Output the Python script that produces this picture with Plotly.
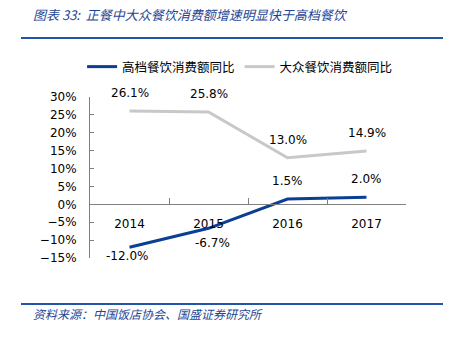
import plotly.graph_objects as go

years = ["2014", "2015", "2016", "2017"]
high_end = [-12.0, -6.7, 1.5, 2.0]
mass = [26.1, 25.8, 13.0, 14.9]
# label offsets (pixels) relative to each point
high_label_shift = [-9, -15, 18, 18]
high_label_xshift = [-3, 4, 0, 0]
mass_label_shift = [18, 18, 18, 18]

title_text = "图表 33:  正餐中大众餐饮消费额增速明显快于高档餐饮"
source_text = "资料来源：中国饭店协会、国盛证券研究所"
name_high = "高档餐饮消费额同比"
name_mass = "大众餐饮消费额同比"

BLUE = "#0a3f94"
GRAY = "#c8c8c8"
TXT_BLUE = "#1f4696"

fig = go.Figure()
fig.add_trace(go.Scatter(
    x=years, y=high_end, mode="lines", name=name_high,
    line=dict(color=BLUE, width=3), cliponaxis=False,
))
fig.add_trace(go.Scatter(
    x=years, y=mass, mode="lines", name=name_mass,
    line=dict(color=GRAY, width=3), cliponaxis=False,
))

annotations = []
for i, (yv, ys, xs) in enumerate(zip(high_end, high_label_shift, high_label_xshift)):
    annotations.append(dict(xref="x", yref="y", x=i, y=yv, text=f"{yv:.1f}%",
                            showarrow=False, yshift=ys, xshift=xs,
                            font=dict(family="DejaVu Sans", size=12, color="#000000")))
for i, (yv, ys) in enumerate(zip(mass, mass_label_shift)):
    annotations.append(dict(xref="x", yref="y", x=i, y=yv, text=f"{yv:.1f}%",
                            showarrow=False, yshift=ys,
                            font=dict(family="DejaVu Sans", size=12, color="#000000")))

annotations.append(dict(text=title_text, xref="paper", yref="paper",
                        x=(31 - 90) / 316, y=(258 - 15) / 161,
                        xanchor="left", yanchor="middle", showarrow=False,
                        font=dict(family="Noto Sans CJK SC", size=13, color=TXT_BLUE, style="italic")))
annotations.append(dict(text=source_text, xref="paper", yref="paper",
                        x=(31 - 90) / 316, y=(258 - 313) / 161,
                        xanchor="left", yanchor="middle", showarrow=False,
                        font=dict(family="Noto Sans CJK SC", size=12, color=TXT_BLUE, style="italic")))

shapes = []
for ypix in (38, 304):
    shapes.append(dict(type="line", xref="paper", yref="paper",
                       x0=(21 - 90) / 316, x1=(443 - 90) / 316,
                       y0=(258 - ypix) / 161, y1=(258 - ypix) / 161,
                       line=dict(color="#2255a8", width=2)))

fig.update_layout(
    width=456, height=337,
    margin=dict(l=90, r=50, t=97, b=79),
    paper_bgcolor="white", plot_bgcolor="white",
    showlegend=True,
    legend=dict(orientation="h", x=-0.025, y=(258 - 67) / 161, xanchor="left", yanchor="middle",
                font=dict(family="Noto Sans CJK SC", size=12.5, color="#000000"),
                itemwidth=30, tracegroupgap=0, bgcolor="rgba(0,0,0,0)"),
    xaxis=dict(type="category", range=[-0.5, 3.5], anchor="free", position=1/3,
               showline=True, linecolor="#808080", linewidth=1,
               ticks="inside", tickson="boundaries", ticklen=6, tickcolor="#808080",
               showgrid=False, zeroline=False,
               tickfont=dict(family="DejaVu Sans", size=12, color="#000000"),
               ticklabelstandoff=8),
    yaxis=dict(range=[-15, 30], dtick=5, ticksuffix="%",
               showline=True, linecolor="#808080", linewidth=1,
               ticks="inside", ticklen=4, tickcolor="#808080",
               showgrid=False, zeroline=False,
               tickfont=dict(family="DejaVu Sans", size=12, color="#000000"),
               ticklabelstandoff=10),
    font=dict(family="DejaVu Sans", size=12, color="#000000"),
    annotations=annotations,
    shapes=shapes,
)

fig.write_html("out.html")
